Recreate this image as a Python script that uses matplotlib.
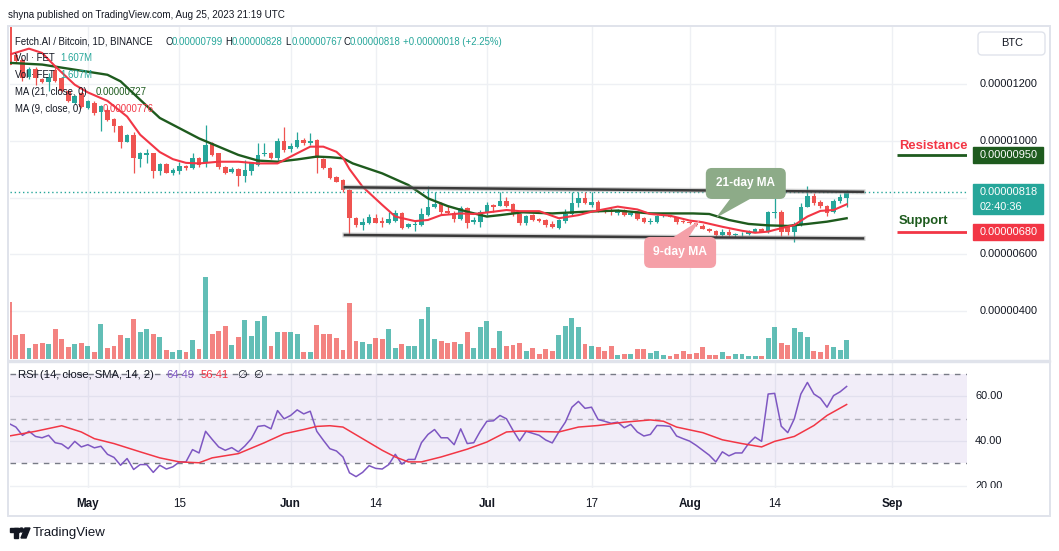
from __future__ import annotations

import matplotlib

matplotlib.use("Agg")
import matplotlib.pyplot as plt
import numpy as np
import pandas as pd
from matplotlib.colors import to_rgba
from matplotlib.patches import Circle, FancyBboxPatch, Polygon, Rectangle
from matplotlib.transforms import Affine2D

W, H = 1059, 551
OUT_PATH = "out.png"

# daily candles, prices in 1e-8 BTC, first candle = START_DATE
START_DATE = "2023-04-19"

OPEN = [
    1420, 1300, 1285, 1224, 1254, 1218, 1207, 1250, 1221, 1174,
    1133, 1168, 1115, 1133, 1102, 1108, 1075, 1053, 997, 1020,
    934, 950, 955, 894, 918, 888, 893, 911, 905, 938,
    920, 991, 955, 909, 890, 899, 876, 894, 914, 952,
    958, 940, 999, 970, 979, 1002, 991, 1002, 934, 903,
    871, 862, 826, 727, 703, 711, 727, 717, 711, 718,
    747, 695, 704, 703, 738, 765, 780, 752, 747, 724,
    762, 714, 715, 744, 774, 771, 788, 777, 741, 712,
    738, 724, 721, 707, 694, 718, 741, 782, 800, 774,
    785, 754, 756, 744, 756, 738, 747, 727, 713, 715,
    735, 737, 730, 718, 715, 709, 700, 690, 682, 667,
    680, 667, 670, 670, 680, 689, 680, 744, 750, 697,
    680, 703, 768, 805, 785, 770, 750, 789, 799,
]
HIGH = [
    1440, 1308, 1290, 1258, 1258, 1222, 1238, 1262, 1225, 1178,
    1160, 1172, 1142, 1140, 1125, 1115, 1080, 1056, 1025, 1030,
    961, 970, 958, 920, 920, 903, 926, 913, 955, 944,
    1055, 997, 958, 912, 906, 903, 932, 925, 991, 991,
    960, 1008, 1047, 991, 1032, 1008, 1026, 1006, 938, 906,
    876, 865, 830, 733, 727, 742, 742, 733, 750, 756,
    750, 712, 719, 762, 841, 821, 785, 770, 754, 770,
    765, 733, 755, 785, 777, 821, 801, 780, 745, 740,
    742, 727, 724, 717, 725, 758, 818, 818, 818, 818,
    791, 757, 762, 760, 760, 752, 752, 730, 727, 740,
    740, 740, 733, 721, 719, 712, 707, 693, 685, 688,
    688, 674, 680, 687, 693, 693, 754, 824, 756, 703,
    715, 782, 841, 815, 791, 775, 794, 812, 828,
]
LOW = [
    1262, 1272, 1211, 1218, 1195, 1203, 1174, 1205, 1170, 1135,
    1128, 1115, 1110, 1090, 1035, 1070, 1032, 973, 995, 887,
    906, 923, 870, 879, 885, 879, 882, 898, 902, 908,
    906, 945, 900, 884, 885, 840, 856, 879, 910, 946,
    935, 932, 961, 961, 973, 985, 985, 887, 900, 865,
    853, 820, 668, 697, 686, 707, 709, 695, 707, 715,
    688, 692, 683, 700, 735, 762, 738, 741, 715, 721,
    692, 707, 697, 738, 750, 770, 765, 736, 705, 705,
    717, 715, 697, 692, 689, 711, 736, 765, 777, 765,
    750, 745, 738, 740, 735, 735, 721, 709, 707, 712,
    730, 730, 707, 710, 707, 700, 688, 679, 660, 665,
    665, 662, 666, 668, 678, 677, 676, 727, 665, 668,
    645, 700, 766, 774, 762, 735, 747, 782, 767,
]
CLOSE = [
    1268, 1282, 1221, 1254, 1221, 1207, 1223, 1211, 1174, 1139,
    1156, 1119, 1139, 1097, 1121, 1073, 1052, 997, 1020, 938,
    955, 955, 894, 918, 887, 897, 911, 905, 938, 914,
    985, 950, 906, 888, 899, 876, 897, 920, 950, 958,
    940, 999, 967, 981, 1002, 991, 999, 938, 903, 867,
    856, 826, 727, 703, 715, 733, 711, 711, 724, 747,
    694, 707, 707, 741, 765, 777, 750, 744, 723, 762,
    711, 721, 749, 774, 768, 788, 770, 741, 711, 735,
    721, 719, 703, 695, 721, 741, 780, 800, 780, 785,
    754, 752, 748, 756, 738, 747, 724, 715, 718, 735,
    738, 733, 715, 714, 711, 705, 690, 681, 667, 677,
    667, 670, 672, 682, 689, 680, 750, 750, 680, 680,
    707, 765, 805, 780, 770, 744, 789, 803, 818,
]
# volume in millions of FET
VOLUME = [
    4.75, 2.0, 2.08, 0.92, 1.25, 1.33, 1.25, 2.5, 1.67, 1.0,
    1.25, 1.33, 1.08, 0.58, 2.92, 0.92, 1.08, 2.0, 1.75, 3.33,
    2.25, 2.5, 2.08, 1.83, 0.75, 0.58, 0.75, 0.58, 1.58, 0.83,
    6.83, 2.08, 2.33, 2.75, 1.17, 1.83, 3.25, 1.92, 3.17, 3.58,
    1.08, 2.25, 2.25, 2.25, 2.08, 0.58, 0.58, 2.83, 2.08, 2.08,
    1.75, 0.75, 4.67, 1.5, 1.42, 1.25, 1.75, 1.67, 2.5, 0.92,
    1.25, 1.08, 1.08, 3.33, 4.33, 1.67, 1.5, 1.33, 1.42, 1.25,
    2.25, 0.92, 2.67, 3.17, 0.92, 2.33, 1.08, 1.17, 1.33, 0.67,
    0.92, 0.42, 0.83, 0.67, 2.0, 2.75, 3.42, 2.67, 1.25, 1.08,
    1.0, 0.67, 1.08, 0.33, 0.42, 0.42, 0.83, 0.83, 0.5, 0.67,
    0.33, 0.25, 0.42, 0.67, 0.42, 0.5, 1.0, 0.33, 0.33, 0.58,
    0.25, 0.42, 0.42, 0.25, 0.25, 0.25, 1.75, 2.67, 1.33, 1.17,
    2.58, 2.25, 1.83, 0.67, 0.58, 1.17, 1.0, 0.75, 1.607,
]

# moving averages (day index, value)
MA9_DAY = [0, 3, 5, 7, 10, 12, 15, 18, 20, 23, 25, 27, 29, 32, 35, 38, 41, 43,
           46, 48, 50, 51, 52, 54, 57, 59, 62, 64, 66, 69, 71, 74, 76, 78, 81,
           84, 87, 89, 93, 96, 98, 101, 104, 106, 109, 112, 114, 116, 118, 120,
           122, 124, 126, 128]
MA9_VAL = [1303, 1324, 1309, 1262, 1197, 1170, 1140, 1085, 1021, 960, 935, 922,
           920, 926, 926, 920, 920, 944, 979, 979, 961, 940, 900, 838, 774, 733,
           717, 721, 738, 744, 742, 750, 756, 752, 752, 727, 738, 750, 768, 758,
           742, 736, 719, 713, 697, 683, 676, 680, 692, 703, 733, 753, 756, 776]
MA21_DAY = [0, 5, 10, 15, 17, 20, 23, 26, 29, 32, 35, 38, 41, 44, 47, 49, 51,
            52.5, 57, 61, 64, 67, 70, 73, 75, 78.5, 83, 88, 93, 98, 104.5, 107,
            110, 113, 116, 119, 122, 125, 128]
MA21_VAL = [1274, 1268, 1250, 1232, 1209, 1144, 1080, 1044, 1008, 979, 950, 930,
            926, 934, 944, 942, 938, 920, 885, 844, 797, 770, 750, 733, 738, 748,
            744, 750, 754, 744, 744, 742, 721, 707, 702, 700, 707, 715, 727]

RSI = [
    47.8, 46.3, 42.6, 44.4, 42.1, 41.5, 42.6, 39.3, 38.7, 36.6,
    39.9, 37.4, 38.4, 37.0, 37.7, 34.1, 32.7, 29.2, 32.2, 27.3,
    29.5, 29.5, 26.0, 29.2, 27.5, 28.5, 30.7, 30.7, 36.2, 34.7,
    44.4, 40.8, 37.4, 35.9, 37.1, 35.2, 37.8, 41.1, 46.6, 47.0,
    45.5, 53.7, 50.0, 51.5, 54.0, 52.2, 53.4, 44.4, 40.4, 36.6,
    35.6, 32.9, 25.8, 24.1, 26.0, 29.0, 27.8, 27.5, 29.5, 34.1,
    29.7, 31.8, 31.8, 39.3, 43.0, 45.2, 41.5, 41.5, 38.4, 45.5,
    38.9, 39.3, 44.5, 48.9, 49.1, 51.5, 50.0, 44.8, 40.1, 44.4,
    43.5, 42.6, 40.5, 39.2, 44.1, 48.5, 55.2, 57.8, 54.7, 55.2,
    49.7, 48.9, 48.0, 48.5, 46.0, 47.5, 44.1, 42.3, 43.0, 47.0,
    46.9, 46.6, 42.3, 41.1, 40.0, 38.1, 35.9, 33.7, 30.7, 35.2,
    33.4, 34.7, 34.7, 38.9, 41.8, 39.9, 61.1, 61.4, 46.7, 43.8,
    50.0, 61.1, 66.3, 61.1, 59.2, 55.2, 60.4, 62.1, 64.49,
]
RSI_MA_DAY = [0, 4, 8, 11, 13, 16, 20, 23, 26, 29, 31, 35, 39, 42, 45, 47, 49,
              51, 54, 57, 59, 61, 63, 66, 70, 73, 76, 78, 80, 84, 87, 90, 94, 98,
              100, 102, 106, 109, 112, 115, 117, 120, 123, 125, 128]
RSI_MA_VAL = [42.3, 44.4, 46.9, 44.1, 41.1, 38.9, 35.2, 32.5, 30.7, 30.3, 32.5,
              34.4, 39.3, 43.3, 45.2, 46.6, 46.9, 46.3, 41.1, 35.9, 32.9, 30.7,
              30.7, 32.9, 36.4, 39.6, 44.1, 44.5, 44.4, 44.1, 46.3, 47.0, 48.5,
              49.5, 48.9, 46.3, 43.8, 40.6, 38.9, 37.4, 39.9, 42.1, 47.0, 51.5,
              56.41]

TICK_DATES = ["2023-05-01", "2023-05-15", "2023-06-01", "2023-06-14", "2023-07-01",
              "2023-07-17", "2023-08-01", "2023-08-14", "2023-09-01"]
TICK_LABELS = ["May", "15", "Jun", "14", "Jul", "17", "Aug", "14", "Sep"]
MONTHS = {"May", "Jun", "Jul", "Aug", "Sep"}

PRICE_TICKS = [400, 600, 800, 1000, 1200]
PRICE_LABELS = [400, 600, 1000, 1200]
RSI_LABELS = [60, 40, 20]
RESISTANCE = 950
SUPPORT = 680
CHANGE = 18
CHANGE_PCT = 2.25
CHANNEL_TOP = ([51.3, 130.5], [836, 820])
CHANNEL_BOTTOM = ([51.3, 130.5], [668, 656])
LEVEL_START = 135.7

UP = "#26a69a"
DOWN = "#ef5350"
MA9_COLOR = "#f23645"
MA21_COLOR = "#1e5b1e"
RSI_COLOR = "#7e57c2"
TEXT = "#131722"
GRID = "#eef0f4"
BORDER = "#e0e3eb"

PRICE_LIM = (231.6, 1400.2)
VOL_TOP = 27.6
RSI_LIM = (19.0, 75.9)
X_LIM = (0.1, 146.4)


def fmt(p: float) -> str:
    return f"{p * 1e-8:.8f}"


def main() -> None:
    plt.rcParams["font.family"] = ["Liberation Sans", "DejaVu Sans"]
    fig = plt.figure(figsize=(W / 100, H / 100), dpi=100)
    fig.patch.set_facecolor("white")
    px = Affine2D().scale(1, -1).translate(0, H)  # top-left pixel coords

    def px_axes(x0, y0, x1, y1):
        a = fig.add_axes((x0 / W, 1 - y1 / H, (x1 - x0) / W, (y1 - y0) / H))
        a.set_axis_off()
        return a

    def ptext(x, y, s, size=6.9, color=TEXT, **kw):
        fig.text(x, y, s, transform=px, fontsize=size, color=color,
                 va="center", **kw)

    n = len(CLOSE)
    days = np.arange(n)
    o, h, l, c = (np.array(v, dtype=float) for v in (OPEN, HIGH, LOW, CLOSE))
    colors = np.where(c >= o, UP, DOWN)
    start = pd.Timestamp(START_DATE)
    tick_days = [(pd.Timestamp(t) - start).days for t in TICK_DATES]

    # main pane: grid / volume / candles stacked on the same rectangle
    ax_grid = px_axes(10, 27, 967, 359)
    ax_vol = px_axes(10, 27, 967, 359)
    ax = px_axes(10, 27, 967, 359)
    for a in (ax_grid, ax_vol, ax):
        a.set_xlim(*X_LIM)
    ax_grid.set_ylim(*PRICE_LIM)
    ax.set_ylim(*PRICE_LIM)
    ax_vol.set_ylim(0, VOL_TOP)

    for p in PRICE_TICKS:
        ax_grid.axhline(p, color=GRID, lw=1)
    for t in tick_days:
        ax_grid.axvline(t, color=GRID, lw=1)

    ax_vol.bar(days, VOLUME, width=0.75, color=[to_rgba(cc, 0.72) for cc in colors])

    ax.vlines(days, l, h, colors=colors, lw=0.9, zorder=2)
    ax.bar(days, np.maximum(np.abs(c - o), 1.6), bottom=np.minimum(o, c),
           width=0.7, color=colors, zorder=2)

    ax.plot(MA21_DAY, MA21_VAL, color=MA21_COLOR, lw=1.7, zorder=3,
            solid_joinstyle="round")
    ax.plot(MA9_DAY, MA9_VAL, color=MA9_COLOR, lw=1.5, zorder=3,
            solid_joinstyle="round")

    for xs, ys in (CHANNEL_TOP, CHANNEL_BOTTOM):
        ax.plot(xs, ys, color="#9a9a9a", lw=3.6, alpha=0.45, zorder=4)
        ax.plot(xs, ys, color="#3a3a3a", lw=1.8, zorder=4)

    ax.axhline(c[-1], color=UP, lw=1, ls=(0, (1, 2)), zorder=1)
    ax.hlines(RESISTANCE, LEVEL_START, X_LIM[1], color=MA21_COLOR, lw=2)
    ax.hlines(SUPPORT, LEVEL_START, X_LIM[1], color=MA9_COLOR, lw=2)
    ax.annotate("Resistance", (LEVEL_START + 0.3, RESISTANCE), xytext=(0, 6.6),
                textcoords="offset points", color=MA9_COLOR, fontsize=9.4,
                fontweight="bold", va="center")
    ax.annotate("Support", (LEVEL_START + 0.2, SUPPORT), xytext=(0, 7.3),
                textcoords="offset points", color=MA21_COLOR, fontsize=9.4,
                fontweight="bold", va="center")

    # callouts anchored on the MA lines
    def tip_px(day, price):
        x, y = ax.transData.transform((day, price))
        return x, H - y

    tx, ty = tip_px(108.0, 728)
    fig.add_artist(FancyBboxPatch((tx - 10, ty - 50), 80, 31, transform=px,
                                  boxstyle="round,pad=0,rounding_size=6",
                                  fc="#8dab88", ec="none", zorder=5))
    fig.add_artist(Polygon([(tx + 15, ty - 20), (tx + 36, ty - 20), (tx, ty)],
                           transform=px, fc="#8dab88", ec="none", zorder=5))
    ptext(tx + 30, ty - 34.5, "21-day MA", size=8.5, color="white",
          fontweight="bold", ha="center", zorder=6)

    tx, ty = tip_px(105.6, 721)
    fig.add_artist(FancyBboxPatch((tx - 56, ty + 17), 72, 31, transform=px,
                                  boxstyle="round,pad=0,rounding_size=6",
                                  fc="#f5a0a8", ec="none", zorder=5))
    fig.add_artist(Polygon([(tx - 28, ty + 18), (tx - 12, ty + 18), (tx, ty)],
                           transform=px, fc="#f5a0a8", ec="none", zorder=5))
    ptext(tx - 20, ty + 32.5, "9-day MA", size=8.7, color="white",
          fontweight="bold", ha="center", zorder=6)

    # price scale
    sc = px_axes(967, 27, 1048, 359)
    sc.set_xlim(0, 81)
    sc.set_ylim(*PRICE_LIM)
    k = (PRICE_LIM[1] - PRICE_LIM[0]) / 332.0
    for p in PRICE_LABELS:
        sc.text(13, p, fmt(p), fontsize=7.9, color=TEXT, va="center")
    sc.add_patch(Rectangle((6, RESISTANCE - 8 * k), 70, 16 * k, color=MA21_COLOR))
    sc.text(13, RESISTANCE, fmt(RESISTANCE), fontsize=7.9, color="white", va="center")
    sc.add_patch(Rectangle((6, SUPPORT - 8 * k), 70, 16 * k, color=MA9_COLOR))
    sc.text(13, SUPPORT, fmt(SUPPORT), fontsize=7.9, color="white", va="center")
    sc.add_patch(Rectangle((6, c[-1] - 22 * k), 70, 30 * k, color=UP))
    sc.text(13, c[-1], fmt(c[-1]), fontsize=7.9, color="white", va="center")
    sc.text(13, c[-1] - 14.7 * k, "02:40:36", fontsize=7.9, color="white",
            va="center")

    # RSI pane
    ar = fig.add_axes((10 / W, 1 - 488 / H, 957 / W, 127 / H))
    ar.set_xlim(*X_LIM)
    ar.set_ylim(*RSI_LIM)
    for s in ar.spines.values():
        s.set_visible(False)
    ar.set_yticks([])
    ar.axhspan(30, 70, color=RSI_COLOR, alpha=0.1, lw=0)
    for v in (20, 40, 60):
        ar.axhline(v, color=GRID, lw=1, zorder=0)
    for t in tick_days:
        ar.axvline(t, color=GRID, lw=1, zorder=0)
    for v, a_ in ((70, 1.0), (50, 0.55), (30, 1.0)):
        ar.axhline(v, color="#787b86", lw=1, ls=(0, (4, 4)), alpha=a_)
    ar.plot(days, RSI, color=RSI_COLOR, lw=1.1, zorder=3)
    ar.plot(RSI_MA_DAY, RSI_MA_VAL, color=MA9_COLOR, lw=1.1, zorder=3)
    ar.set_xticks(tick_days)
    ar.set_xticklabels(TICK_LABELS)
    ar.tick_params(axis="x", length=0, pad=7.2, labelsize=8.4, labelcolor=TEXT)
    for lbl in ar.get_xticklabels():
        if lbl.get_text() in MONTHS:
            lbl.set_fontweight("bold")

    rs = px_axes(967, 361, 1048, 488)
    rs.set_xlim(0, 81)
    rs.set_ylim(*RSI_LIM)
    for v in RSI_LABELS:
        rs.text(8, v, f"{v:.2f}", fontsize=7.9, color=TEXT, va="center",
                clip_on=True)

    # frame and currency button
    fig.add_artist(Rectangle((8, 26), 1042, 490, transform=px, fill=False,
                             ec=BORDER, lw=1.4))
    fig.add_artist(Rectangle((8, 359.5), 1042, 2, transform=px, color=BORDER))
    fig.add_artist(FancyBboxPatch((978, 32), 67, 23, transform=px,
                                  boxstyle="round,pad=0,rounding_size=4",
                                  fc="white", ec=BORDER, lw=1))
    ptext(1001, 43.5, "BTC", size=7.9)

    # header and legends
    ptext(8, 15, "shyna published on TradingView.com, Aug 25, 2023 21:19 UTC", size=7.1)
    ptext(15, 42, "Fetch.AI / Bitcoin, 1D, BINANCE")
    for x0, lab, val in ((165, "O", OPEN[-1]), (225, "H", HIGH[-1]),
                         (285, "L", LOW[-1]), (343, "C", CLOSE[-1])):
        ptext(x0, 42, lab)
        ptext(x0 + 7, 42, fmt(val), color=UP)
    ptext(403, 42, f"+{fmt(CHANGE)} (+{CHANGE_PCT:.2f}%)", color=UP)
    for y in (58, 75):
        ptext(15, y, "Vol · FET")
        ptext(60, y, f"{VOLUME[-1]:.3f}M", color=UP)
    ptext(15, 92, "MA (21, close, 0)")
    ptext(96, 92, fmt(MA21_VAL[-1]), color=MA21_COLOR)
    ptext(15, 109, "MA (9, close, 0)")
    ptext(103, 109, fmt(MA9_VAL[-1]), color=MA9_COLOR)

    ptext(18, 375, "RSI (14, close, SMA, 14, 2)", size=8.1)
    ptext(166, 375, f"{RSI[-1]:.2f}", size=8.1, color=RSI_COLOR)
    ptext(201, 375, f"{RSI_MA_VAL[-1]:.2f}", size=8.1, color=MA9_COLOR)
    ptext(237, 375, "\u2205", size=8.1, family=["DejaVu Sans"])
    ptext(253, 375, "\u2205", size=8.1, family=["DejaVu Sans"])

    # TradingView footer
    fig.add_artist(Rectangle((10, 528), 9, 4, transform=px, color=TEXT))
    fig.add_artist(Rectangle((14, 528), 4, 10, transform=px, color=TEXT))
    fig.add_artist(Circle((21.5, 530), 2, transform=px, color=TEXT))
    fig.add_artist(Polygon([(25, 528), (30, 528), (26, 538), (21, 538)],
                           transform=px, color=TEXT))
    ptext(33, 533, "TradingView", size=9.5)

    fig.savefig(OUT_PATH, dpi=100, facecolor="white")


if __name__ == "__main__":
    main()
